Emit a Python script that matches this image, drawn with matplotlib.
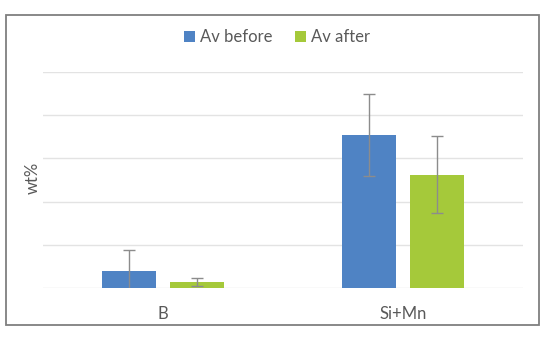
import matplotlib
matplotlib.use("Agg")
import matplotlib.pyplot as plt
from matplotlib.patches import Rectangle
import numpy as np

plt.rcParams['font.family'] = ['Lato', 'DejaVu Sans']

categories = ['B', 'Si+Mn']
av_before = [0.39, 3.54]
av_before_err = [0.49, 0.94]
av_after = [0.14, 2.62]
av_after_err = [0.09, 0.89]

fig = plt.figure(figsize=(5.5, 3.37), dpi=100)
# outer frame around the chart
fig.patches.append(Rectangle((6/550, 1-325/337), 533/550, 310/337, transform=fig.transFigure,
                             fill=False, edgecolor='#7f7f7f', linewidth=1.3))
ax = fig.add_axes([43/550, 1-288/337, 480/550, 216/337])

x = np.arange(len(categories))
w = 0.225
off = 0.142
ekw = dict(ecolor='#8c8c8c', elinewidth=1.0, capsize=4, capthick=1.0)
ax.bar(x - off, av_before, w, yerr=av_before_err, color='#4f83c4', label='Av before',
       error_kw=ekw, zorder=3)
ax.bar(x + off, av_after, w, yerr=av_after_err, color='#a5c93a', label='Av after',
       error_kw=ekw, zorder=3)

ax.set_xlim(-0.5, 1.5)
ax.set_ylim(0, 5)
ax.set_yticks(np.arange(0, 6, 1))
ax.set_yticklabels([])
ax.set_xticks(x)
ax.set_xticklabels(categories, fontsize=12, color='#595959')
ax.tick_params(axis='x', length=0, pad=13)
ax.tick_params(axis='y', length=0, pad=0)
ax.grid(axis='y', color='#e3e3e3', linewidth=1, zorder=0)
for s in ax.spines.values():
    s.set_visible(False)
ax.set_ylabel('wt%', fontsize=12, color='#595959')
ax.yaxis.set_label_coords(-0.005, 0.51)

fig.legend(loc='center', bbox_to_anchor=(277/550, 1-37/337), ncol=2, frameon=False,
           fontsize=12, labelcolor='#595959', handlelength=0.65, handleheight=0.65,
           handletextpad=0.3, columnspacing=1.4)

fig.savefig('out.png', dpi=100)
